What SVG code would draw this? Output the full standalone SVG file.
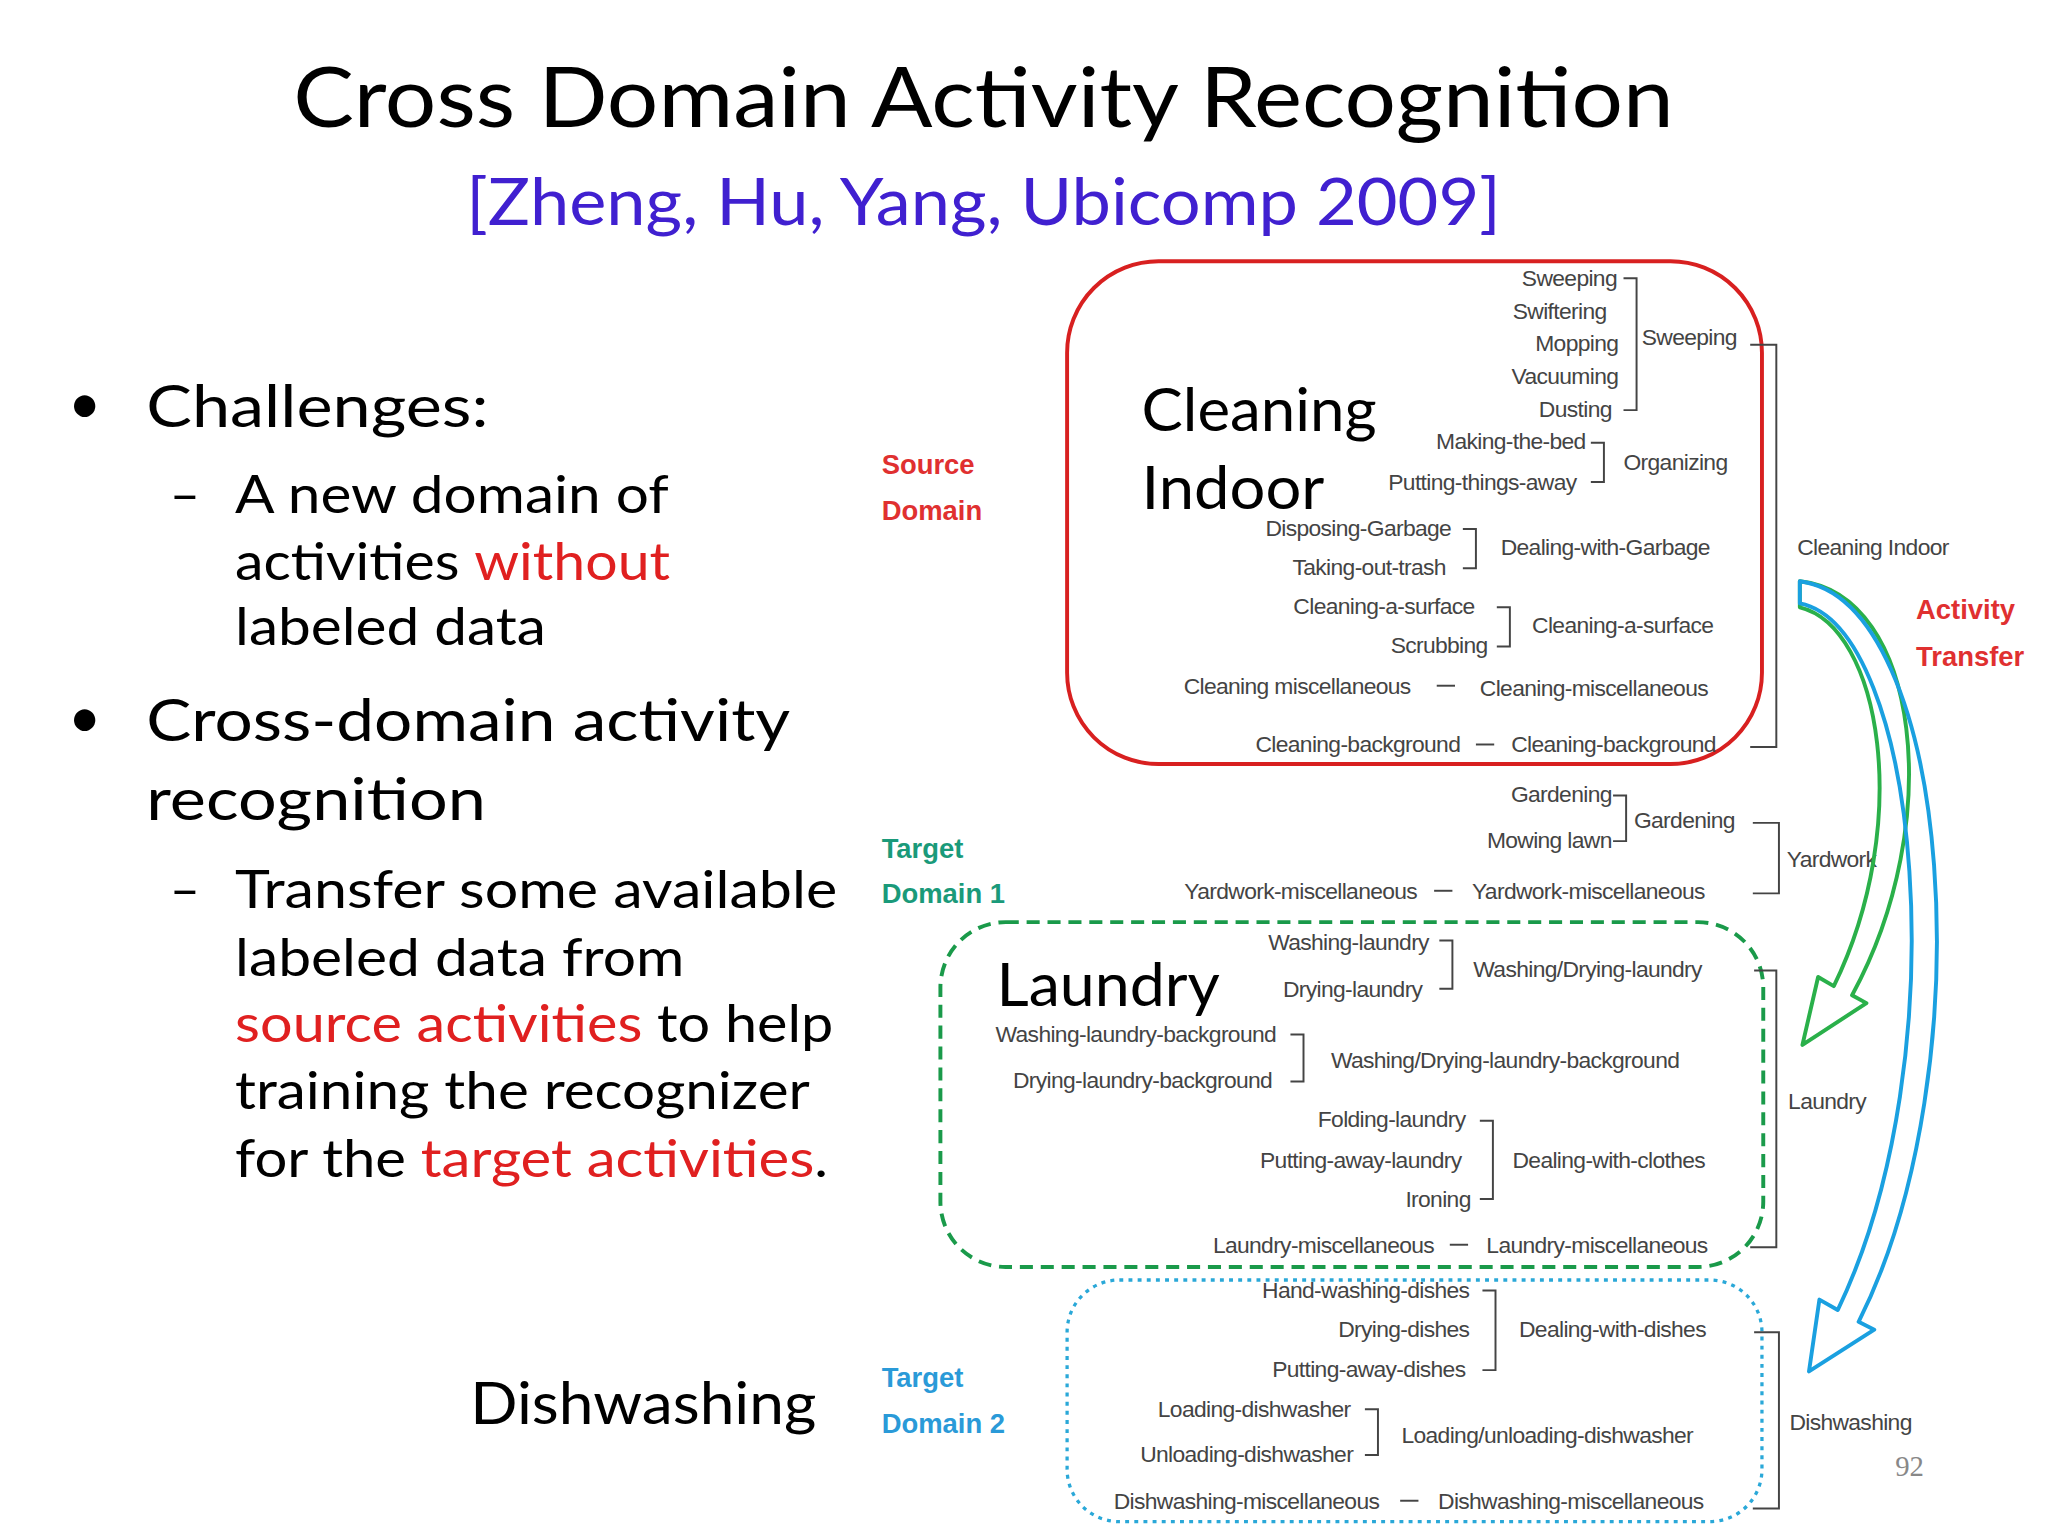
<svg xmlns="http://www.w3.org/2000/svg" width="2048" height="1536" viewBox="0 0 2048 1536">
<style>
.t{font-family:Lato,"Open Sans",sans-serif;fill:#000}
.s{font-family:"Liberation Sans",Arial,sans-serif;font-size:17.5px;fill:#444;letter-spacing:-0.5px}
.e{text-anchor:end}
.br{fill:none;stroke:#444;stroke-width:1.5}
.lab{font-family:"Liberation Sans",Arial,sans-serif;font-size:21px;font-weight:bold}
</style>
<rect width="2048" height="1536" fill="#fff"/>
<g transform="scale(1.30612)">
<g id="title">
<text class="t" x="753" y="97" font-size="64" text-anchor="middle" textLength="1057" lengthAdjust="spacingAndGlyphs">Cross Domain Activity Recognition</text>
<text class="t" x="753" y="172" font-size="50" text-anchor="middle" style="fill:#4020d0" textLength="792" lengthAdjust="spacingAndGlyphs">[Zheng, Hu, Yang, Ubicomp 2009]</text>
</g>
<g id="bullets" class="t" font-size="44">
<text x="52" y="325">•</text><text x="112" y="327" textLength="262" lengthAdjust="spacingAndGlyphs">Challenges:</text>
<text x="130" y="393" font-size="40">–</text><text x="180" y="393" font-size="40" textLength="332" lengthAdjust="spacingAndGlyphs">A new domain of</text>
<text x="180" y="444" font-size="40" textLength="333" lengthAdjust="spacingAndGlyphs">activities <tspan fill="#e02020">without</tspan></text>
<text x="180" y="494" font-size="40" textLength="238" lengthAdjust="spacingAndGlyphs">labeled data</text>
<text x="52" y="565">•</text><text x="112" y="567" textLength="493" lengthAdjust="spacingAndGlyphs">Cross-domain activity</text>
<text x="112" y="628" textLength="260" lengthAdjust="spacingAndGlyphs">recognition</text>
<text x="130" y="695" font-size="40">–</text><text x="180" y="695" font-size="40" textLength="461" lengthAdjust="spacingAndGlyphs">Transfer some available</text>
<text x="180" y="747" font-size="40" textLength="344" lengthAdjust="spacingAndGlyphs">labeled data from</text>
<text x="180" y="798" font-size="40" textLength="458" lengthAdjust="spacingAndGlyphs"><tspan fill="#e02020">source activities</tspan> to help</text>
<text x="180" y="849" font-size="40" textLength="440" lengthAdjust="spacingAndGlyphs">training the recognizer</text>
<text x="180" y="901" font-size="40" textLength="454" lengthAdjust="spacingAndGlyphs">for the <tspan fill="#e02020">target activities</tspan>.</text>
</g>
<g id="labels">
<text class="lab" x="675" y="363" fill="#e03030">Source</text><text class="lab" x="675" y="398" fill="#e03030">Domain</text>
<text class="lab" x="675" y="657" fill="#1a9a7a">Target</text><text class="lab" x="675" y="691" fill="#1a9a7a">Domain 1</text>
<text class="lab" x="675" y="1062" fill="#2a9ad8">Target</text><text class="lab" x="675" y="1097" fill="#2a9ad8">Domain 2</text>
<text class="lab" x="1467" y="474" fill="#e03030">Activity</text><text class="lab" x="1467" y="510" fill="#e03030">Transfer</text>
<text class="t" x="874" y="330" font-size="46" textLength="180" lengthAdjust="spacingAndGlyphs">Cleaning</text><text class="t" x="874" y="390" font-size="46" textLength="140" lengthAdjust="spacingAndGlyphs">Indoor</text>
<text class="t" x="763" y="770" font-size="46" textLength="171" lengthAdjust="spacingAndGlyphs">Laundry</text>
<text class="t" x="360" y="1090" font-size="44" textLength="265" lengthAdjust="spacingAndGlyphs">Dishwashing</text>
<text x="1462" y="1130" font-family="Liberation Serif,serif" font-size="22" fill="#888" text-anchor="middle">92</text>
</g>
<g id="boxes">
<rect x="817" y="200" width="532" height="385" rx="70" fill="none" stroke="#d82020" stroke-width="3"/>
<rect x="720" y="706" width="630" height="264" rx="50" fill="none" stroke="#1a9a4a" stroke-width="3" stroke-dasharray="10,6"/>
<rect x="817" y="980" width="532" height="185" rx="40" fill="none" stroke="#2aa8d8" stroke-width="2.5" stroke-dasharray="3,4"/>
</g>
<g id="tree">
<text class="s e" x="1238" y="219">Sweeping</text><text class="s e" x="1230" y="244">Swiftering</text><text class="s e" x="1239" y="269">Mopping</text><text class="s e" x="1239" y="294">Vacuuming</text><text class="s e" x="1234" y="319">Dusting</text>
<path class="br" d="M1243,213H1253V314H1243"/><text class="s" x="1257" y="264">Sweeping</text>
<text class="s e" x="1214" y="344">Making-the-bed</text><text class="s e" x="1207" y="375">Putting-things-away</text>
<path class="br" d="M1218,339H1228V369H1218"/><text class="s" x="1243" y="360">Organizing</text>
<text class="s e" x="1111" y="410">Disposing-Garbage</text><text class="s e" x="1107" y="440">Taking-out-trash</text>
<path class="br" d="M1120,405H1130V435H1120"/><text class="s" x="1149" y="425">Dealing-with-Garbage</text>
<text class="s e" x="1129" y="470">Cleaning-a-surface</text><text class="s e" x="1139" y="500">Scrubbing</text>
<path class="br" d="M1146,465H1156V495H1146"/><text class="s" x="1173" y="485">Cleaning-a-surface</text>
<text class="s e" x="1080" y="531">Cleaning miscellaneous</text><path class="br" d="M1100,525H1114"/><text class="s" x="1133" y="533">Cleaning-miscellaneous</text>
<text class="s e" x="1118" y="576">Cleaning-background</text><path class="br" d="M1130,570H1144"/><text class="s" x="1157" y="576">Cleaning-background</text>
<path class="br" d="M1340,264H1360V572H1340"/><text class="s" x="1376" y="425">Cleaning Indoor</text>
<text class="s e" x="1234" y="614">Gardening</text><text class="s e" x="1234" y="649">Mowing lawn</text>
<path class="br" d="M1235,609H1245V644H1235"/><text class="s" x="1251" y="634">Gardening</text>
<text class="s e" x="1085" y="688">Yardwork-miscellaneous</text><path class="br" d="M1098,682H1112"/><text class="s" x="1127" y="688">Yardwork-miscellaneous</text>
<path class="br" d="M1342,630H1362V684H1342"/><text class="s" x="1368" y="664">Yardwork</text>
<text class="s e" x="1094" y="727">Washing-laundry</text><text class="s e" x="1089" y="763">Drying-laundry</text>
<path class="br" d="M1102,720H1112V757H1102"/><text class="s" x="1128" y="748">Washing/Drying-laundry</text>
<text class="s e" x="977" y="798">Washing-laundry-background</text><text class="s e" x="974" y="833">Drying-laundry-background</text>
<path class="br" d="M988,792H998V828H988"/><text class="s" x="1019" y="818">Washing/Drying-laundry-background</text>
<text class="s e" x="1122" y="863">Folding-laundry</text><text class="s e" x="1119" y="894">Putting-away-laundry</text><text class="s e" x="1126" y="924">Ironing</text>
<path class="br" d="M1133,858H1143V918H1133"/><text class="s" x="1158" y="894">Dealing-with-clothes</text>
<text class="s e" x="1098" y="959">Laundry-miscellaneous</text><path class="br" d="M1110,953H1124"/><text class="s" x="1138" y="959">Laundry-miscellaneous</text>
<path class="br" d="M1343,743H1360V955H1340"/><text class="s" x="1369" y="849">Laundry</text>
<text class="s e" x="1125" y="994">Hand-washing-dishes</text><text class="s e" x="1125" y="1024">Drying-dishes</text><text class="s e" x="1122" y="1054">Putting-away-dishes</text>
<path class="br" d="M1135,988H1145V1049H1135"/><text class="s" x="1163" y="1024">Dealing-with-dishes</text>
<text class="s e" x="1034" y="1085">Loading-dishwasher</text><text class="s e" x="1036" y="1119">Unloading-dishwasher</text>
<path class="br" d="M1045,1079H1055V1114H1045"/><text class="s" x="1073" y="1105">Loading/unloading-dishwasher</text>
<text class="s e" x="1056" y="1155">Dishwashing-miscellaneous</text><path class="br" d="M1072,1149H1086"/><text class="s" x="1101" y="1155">Dishwashing-miscellaneous</text>
<path class="br" d="M1343,1020H1362V1155H1342"/><text class="s" x="1370" y="1095">Dishwashing</text>
</g>
<g id="arrows" fill="none" stroke-width="3" stroke-linejoin="round">
<path stroke="#2ab04a" d="M1378,445 C1470,455 1490,630 1418,762 L1429,768 L1380,800 L1392,748 L1404,755 C1465,630 1440,480 1378,465 Z"/>
<path stroke="#1aa0e0" d="M1378,445 C1495,460 1520,820 1423,1012 L1435,1018 L1385,1050 L1393,995 L1407,1003 C1500,810 1470,480 1378,462 Z"/>
</g>
</g>
</svg>
